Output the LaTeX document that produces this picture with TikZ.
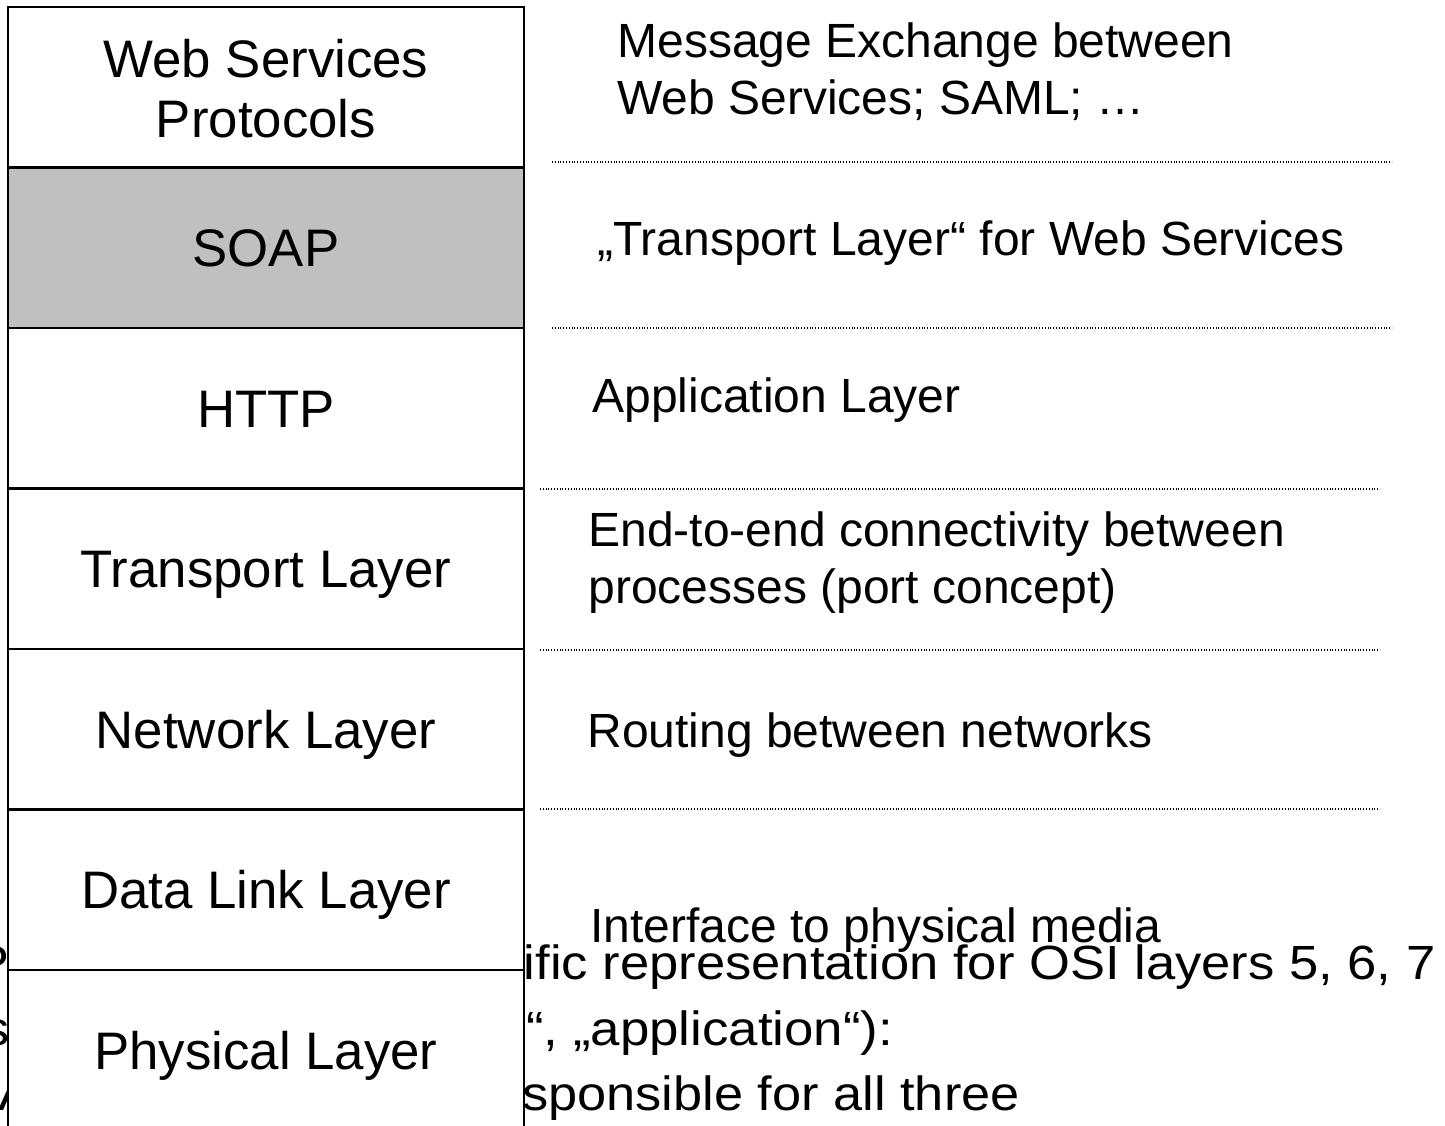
\documentclass[tikz,border=0pt]{standalone}
\usepackage{graphicx}
\usepackage{fontspec}
\setmainfont{Liberation Sans}
\definecolor{soapgray}{RGB}{192,192,192}
\begin{document}
\begin{tikzpicture}[x=0.5pt,y=-0.5pt,
  layer/.style={draw=black, line width=1.25pt, fill=white, minimum width=258pt,
    minimum height=80.25pt, inner sep=0pt, font=\fontsize{26.4}{30}\selectfont,
    text height=18.9pt, text depth=0pt},
  boxlbl/.style={inner sep=0pt, anchor=base, font=\fontsize{26.4}{30}\selectfont},
  desc/.style={inner sep=0pt, anchor=base west, font=\fontsize{24}{28.5}\selectfont},
  under/.style={inner sep=0pt, anchor=base west, font=\fontsize{24}{30}\selectfont},
  sepline/.style={line width=0.55pt, dash pattern=on 0.5pt off 0.9pt}]
\useasboundingbox (0,0) rectangle (1445,1125);
\clip (0,0) rectangle (1445,1125);

% text lying underneath the stack (only visible fragments)
\node[under] (u1l) at (-26,979) {\scalebox{1.09}[1]{P}};
\node[under] (u2l) at (-17,1045) {\scalebox{1.09}[1]{s}};
\node[under] (u3l) at (-2,1110) {\scalebox{1.09}[1]{A}};
\node[under] (u1r) at (523.5,979) {\scalebox{1.095}[1]{ific representation for OSI layers 5, 6, 7}};
\node[under] (u2r) at (526,1045) {\scalebox{1.1}[1]{“, „application“):}};
\node[under] (u3r) at (522,1110) {\scalebox{1.09}[1]{sponsible for all three}};

% layer stack
\node[layer] (wsp) at (266,87.25) {};
\node[boxlbl] (ws1) at (266,77) {Web Services};
\node[boxlbl] (ws2) at (266,137) {Protocols};
\node[layer, fill=soapgray] (soap) at (266,247.75) {SOAP};
\node[layer] (http) at (266,408.25) {HTTP};
\node[layer] (trans) at (266,568.75) {Transport Layer};
\node[layer] (net) at (266,729.25) {Network Layer};
\node[layer] (dll) at (266,889.75) {Data Link Layer};
\node[layer] (phy) at (266,1050.25) {Physical Layer};

% separators
\draw[sepline] (552,162) -- (1392,162);
\draw[sepline] (552,328) -- (1392,328);
\draw[sepline] (540,489) -- (1380,489);
\draw[sepline] (540,650) -- (1380,650);
\draw[sepline] (540,809) -- (1380,809);

% descriptions
\node[desc] (d1a) at (617,57) {Message Exchange between};
\node[desc] (d1b) at (617,114) {Web Services; SAML; …};
\node[desc] (d2) at (597,255) {„Transport Layer“ for Web Services};
\node[desc] (d3) at (592,412) {Application Layer};
\node[desc] (d4a) at (588,546) {End-to-end connectivity between};
\node[desc] (d4b) at (588,603) {processes (port concept)};
\node[desc] (d5) at (587,747) {Routing between networks};
\node[desc] (d6) at (590,942) {Interface to physical media};
\end{tikzpicture}
\end{document}
